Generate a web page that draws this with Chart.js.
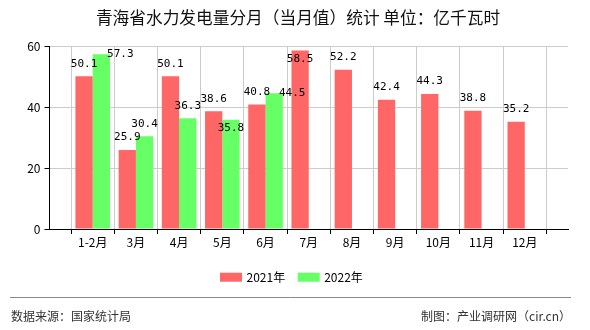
<!DOCTYPE html>
<html>
<head>
<meta charset="utf-8">
<script src="https://cdn.jsdelivr.net/npm/chart.js@4/dist/chart.umd.min.js"></script>
<style>
html,body{margin:0;padding:0;background:#fff;}
#wrap{position:relative;width:590px;height:330px;}
canvas{display:block;}
</style>
</head>
<body>
<div id="wrap"><canvas id="c" width="590" height="330"></canvas></div>
<script>
const titleText = '青海省水力发电量分月（当月值）统计 单位：亿千瓦时';
const categories = ['1-2月','3月','4月','5月','6月','7月','8月','9月','10月','11月','12月'];
const seriesNames = ['2021年','2022年'];
const values2021 = [50.1, 25.9, 50.1, 38.6, 40.8, 58.5, 52.2, 42.4, 44.3, 38.8, 35.2];
const values2022 = [57.3, 30.4, 36.3, 35.8, 44.5, null, null, null, null, null, null];
const yTicks = [0, 20, 40, 60];
const sourceText = '数据来源：国家统计局';
const creditText = '制图：产业调研网（cir.cn）';

const RED = '#FF6666', GREEN = '#66FF66';
const CJK = '"Noto Sans CJK SC", "DejaVu Sans", sans-serif';
const MONO = '"DejaVu Sans Mono", "Liberation Mono", monospace';

// padded labels so categories sit on grid lines, with an empty slot at each end
const labels = [''].concat(categories, ['']);
const pad = arr => [null].concat(arr, [null]);

// label placement exceptions (dataset index -> category index -> offset)
const labelAdjust = {
  '1-1': {dx: 19, dy: 0},
  '1-4': {dx: 0, dy: 8},
  '1-5': {dx: 18, dy: 0},
  '0-6': {dx: 0, dy: 8.5}
};

const decorPlugin = {
  id: 'decor',
  afterDatasetsDraw(chart) {
    const ctx = chart.ctx;
    ctx.save();
    ctx.font = '11px ' + MONO;
    ctx.fillStyle = '#000';
    ctx.textAlign = 'center';
    ctx.textBaseline = 'middle';
    chart.data.datasets.forEach((ds, di) => {
      const meta = chart.getDatasetMeta(di);
      meta.data.forEach((el, i) => {
        const v = ds.data[i];
        if (v === null || v === undefined) return;
        const adj = labelAdjust[di + '-' + i];
        let x = el.x, y = el.y - 12.5;
        if (adj) { x = el.x + adj.dx; y = el.y + adj.dy; }
        ctx.fillText(v.toFixed(1), x, y);
      });
    });
    ctx.restore();
  },
  afterDraw(chart) {
    const ctx = chart.ctx;
    ctx.save();
    ctx.fillStyle = '#111';
    ctx.font = '16.7px ' + CJK;
    ctx.textAlign = 'center';
    ctx.textBaseline = 'middle';
    ctx.fillText(titleText, 298, 18);
    ctx.font = '12px ' + CJK;
    ctx.textAlign = 'left';
    const items = [{c: RED, x: 220}, {c: GREEN, x: 297.7}];
    items.forEach((it, k) => {
      ctx.fillStyle = it.c;
      ctx.fillRect(it.x, 272.7, 22, 9);
      ctx.fillStyle = '#000';
      ctx.fillText(seriesNames[k], it.x + 26.5, 277.5);
    });
    ctx.strokeStyle = '#888';
    ctx.lineWidth = 1;
    ctx.beginPath();
    ctx.moveTo(10, 297.5);
    ctx.lineTo(571, 297.5);
    ctx.stroke();
    ctx.fillStyle = '#333';
    ctx.font = '12px ' + CJK;
    ctx.textAlign = 'left';
    ctx.fillText(sourceText, 11, 316);
    ctx.textAlign = 'right';
    ctx.fillText(creditText, 571, 316);
    ctx.restore();
  }
};

new Chart(document.getElementById('c'), {
  type: 'bar',
  data: {
    labels: labels,
    datasets: [
      {label: seriesNames[0], data: pad(values2021), backgroundColor: RED, borderWidth: 0,
       categoryPercentage: 0.8, barPercentage: 1.0},
      {label: seriesNames[1], data: pad(values2022), backgroundColor: GREEN, borderWidth: 0,
       categoryPercentage: 0.8, barPercentage: 1.0}
    ]
  },
  options: {
    responsive: false,
    animation: false,
    events: [],
    layout: {padding: {left: 0, right: 22, top: 46, bottom: 71}},
    plugins: {legend: {display: false}, title: {display: false}, tooltip: {enabled: false}},
    scales: {
      x: {
        type: 'category',
        offset: false,
        grid: {display: true, color: '#cccccc', tickColor: '#000', tickLength: 5, lineWidth: 1},
        border: {display: true, color: '#000', width: 1},
        ticks: {color: '#000', font: {size: 12, family: CJK}, padding: 1, maxRotation: 0, autoSkip: false},
        afterFit: s => { s.height = 30; }
      },
      y: {
        min: 0, max: 60,
        afterBuildTicks: s => { s.ticks = yTicks.map(v => ({value: v})); },
        grid: {color: '#cccccc', tickColor: '#000', tickLength: 5},
        border: {display: true, color: '#000', width: 1},
        ticks: {color: '#000', font: {size: 12, family: CJK}, padding: 4},
        afterFit: s => { s.width = 49.5; }
      }
    }
  },
  plugins: [decorPlugin]
});
</script>
</body>
</html>
